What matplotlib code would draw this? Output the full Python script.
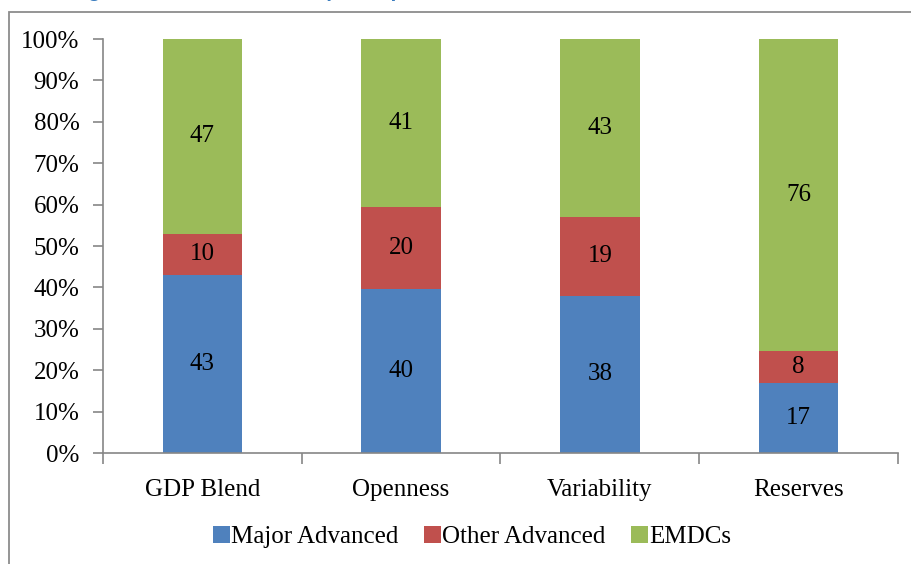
import numpy as np
import matplotlib.pyplot as plt
from matplotlib.patches import Rectangle
from matplotlib.ticker import FixedLocator, FuncFormatter

# Shares of quota variables by country group (raw values, shown as labels)
categories = ["GDP Blend", "Openness", "Variability", "Reserves"]
groups = ["Major Advanced", "Other Advanced", "EMDCs"]
major_advanced = [43, 40, 38, 17]
other_advanced = [10, 20, 19, 8]
emdcs = [47, 41, 43, 76]

colors = ["#4F81BD", "#C0504D", "#9BBB59"]
axis_gray = "#868686"
fs = 18

plt.rcParams["font.family"] = ["Liberation Serif", "DejaVu Serif"]

fig = plt.figure(figsize=(9.12, 5.64), dpi=100)
ax = fig.add_axes([103 / 912, 1 - 453 / 564, 795 / 912, 414 / 564])

# Outer frame around the chart area, running off the right and bottom
fig.patches.append(
    Rectangle((9 / 912, -0.1), 1.2, 1 - 11.5 / 564 + 0.1,
              transform=fig.transFigure, fill=False,
              edgecolor="#8C8C8C", linewidth=1.3, zorder=0)
)

# Title line of the page, mostly cut off above the figure
fig.text(72 / 912, 1 + 3 / 564, "Figure 3. Shares of Country Groups in Quota Variables",
         fontsize=17, fontweight="bold", color="#3B7DBF",
         family=["Carlito", "Liberation Sans", "DejaVu Sans"],
         ha="left", va="baseline")

series = np.array([major_advanced, other_advanced, emdcs], dtype=float)
shares = series / series.sum(axis=0) * 100
x = np.arange(len(categories))
bottom = np.zeros(len(categories))
width = 0.4

for vals, pct, color, name in zip(series, shares, colors, groups):
    ax.bar(x, pct, width, bottom=bottom, color=color, label=name,
           edgecolor="none", zorder=2)
    for xi, b, p, v in zip(x, bottom, pct, vals):
        ax.text(xi, b + p / 2, f"{v:.0f}", ha="center", va="center",
                fontsize=fs, color="black", zorder=3)
    bottom += pct

ax.set_xlim(-0.5, len(categories) - 0.5)
ax.set_ylim(0, 100)

# Category labels centred, tick marks on the boundaries between categories
ax.xaxis.set_major_locator(FixedLocator(np.arange(len(categories) + 1) - 0.5))
ax.xaxis.set_major_formatter(FuncFormatter(lambda v, p: ""))
ax.xaxis.set_minor_locator(FixedLocator(x))
ax.set_xticklabels(categories, minor=True)
ax.tick_params(axis="x", which="major", length=8, width=1.2, color=axis_gray, direction="out")
ax.tick_params(axis="x", which="minor", length=0, labelsize=fs, pad=19)

ax.set_yticks(np.arange(0, 101, 10))
ax.yaxis.set_major_formatter(FuncFormatter(lambda v, p: f"{v:.0f}%"))
ax.tick_params(axis="y", length=7, width=1.2, color=axis_gray, direction="out",
               labelsize=fs, pad=10)

for side in ["top", "right"]:
    ax.spines[side].set_visible(False)
for side in ["left", "bottom"]:
    ax.spines[side].set_color(axis_gray)
    ax.spines[side].set_linewidth(1.2)

fig.legend(loc="center", bbox_to_anchor=(472 / 912, 1 - 537 / 564), ncol=3,
           frameon=False, fontsize=fs, handlelength=0.7, handleheight=0.7,
           handletextpad=0.05, columnspacing=1.0, borderpad=0)

fig.savefig("out.png", dpi=100)
